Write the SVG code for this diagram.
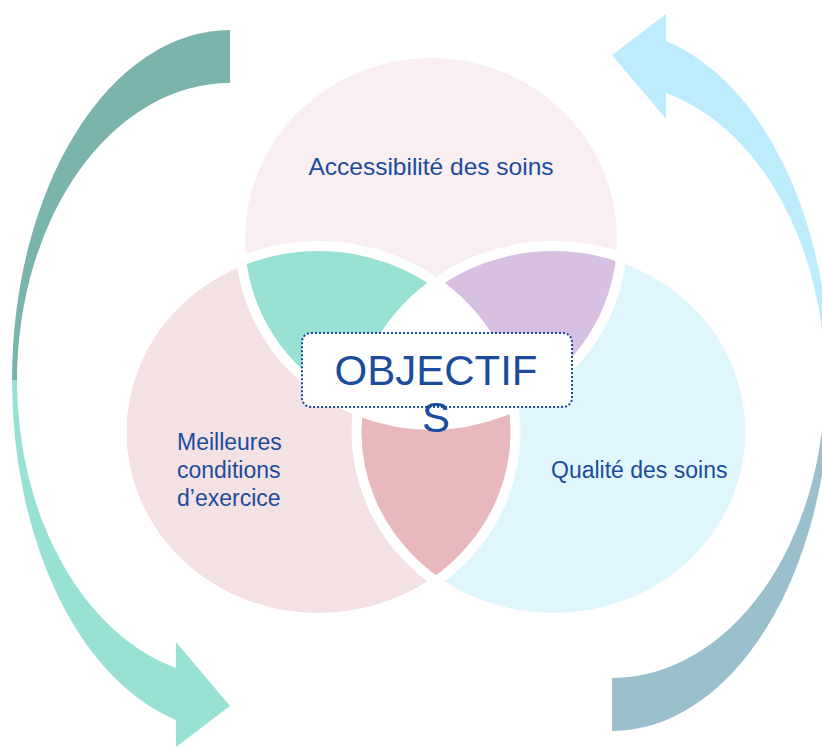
<svg xmlns="http://www.w3.org/2000/svg" width="822" height="747" viewBox="0 0 822 747">
  <style>
    .lbl { font-family: "Liberation Sans", Arial, sans-serif; fill: #1C4C9C; }
    .gap { fill: none; stroke: #FFFFFF; stroke-width: 10; }
  </style>
  <defs>
    <clipPath id="clipTop"><ellipse cx="431" cy="239" rx="191" ry="186"/></clipPath>
    <clipPath id="clipLeft"><ellipse cx="318.5" cy="432" rx="197" ry="186"/></clipPath>
    <clipPath id="clipRight"><ellipse cx="553.5" cy="432" rx="197" ry="186"/></clipPath>
    <path id="arrowDark" d="M230,30 A218,350.4 0 0 0 12,380.4 L17,380.5 A213,297.5 0 0 1 230,83 Z"/>
    <path id="arrowLight" d="M12,380.4 A218,350.4 0 0 0 176,720 L176,747 L230,706 L176,642 L176,668 A213,297.5 0 0 1 17,380.5 Z"/>
  </defs>
  <rect width="822" height="747" fill="#FFFFFF"/>

  <g id="connectors">
    <g id="arrow-left">
      <use href="#arrowDark" fill="#7AB4AC"/>
      <use href="#arrowLight" fill="#99E0D5"/>
    </g>
    <g id="arrow-right" transform="rotate(180 421 380.5)">
      <use href="#arrowDark" fill="#9AC0CE"/>
      <use href="#arrowLight" fill="#BDECFD"/>
    </g>
  </g>

  <g id="node-accessibilite">
    <ellipse cx="431" cy="239" rx="191" ry="186" fill="#F9EEF0"/>
  </g>
  <g id="node-conditions">
    <ellipse cx="318.5" cy="432" rx="197" ry="186" fill="#F4E1E4"/>
  </g>
  <g id="node-qualite">
    <ellipse cx="553.5" cy="432" rx="197" ry="186" fill="#E0F6FD"/>
  </g>

  <g id="overlaps">
    <ellipse cx="431" cy="239" rx="191" ry="186" fill="#99E0D5" clip-path="url(#clipLeft)"/>
    <ellipse cx="431" cy="239" rx="191" ry="186" fill="#D8C0E3" clip-path="url(#clipRight)"/>
    <ellipse cx="318.5" cy="432" rx="197" ry="186" fill="#E8B8BC" clip-path="url(#clipRight)"/>
    <g clip-path="url(#clipLeft)">
      <g clip-path="url(#clipRight)">
        <ellipse cx="431" cy="239" rx="191" ry="186" fill="#FFFFFF"/>
      </g>
    </g>
    <ellipse class="gap" cx="431" cy="239" rx="191" ry="186"/>
    <ellipse class="gap" cx="318.5" cy="432" rx="197" ry="186"/>
    <ellipse class="gap" cx="553.5" cy="432" rx="197" ry="186"/>
  </g>

  <g id="labels">
    <text class="lbl" x="431" y="175" font-size="24.5" text-anchor="middle">Accessibilité des soins</text>
    <text class="lbl" x="177" y="450" font-size="23">Meilleures</text>
    <text class="lbl" x="177" y="478" font-size="23">conditions</text>
    <text class="lbl" x="177" y="506" font-size="23">d’exercice</text>
    <text class="lbl" x="551" y="478" font-size="23">Qualité des soins</text>
  </g>

  <g id="node-objectifs">
    <rect x="302" y="333" width="270" height="74" rx="9" ry="9" fill="#FFFFFF" stroke="#1C4C9C" stroke-width="2" stroke-dasharray="2 2"/>
    <text class="lbl" x="436" y="385" font-size="42" text-anchor="middle">OBJECTIF</text>
    <text class="lbl" x="436" y="432" font-size="42" text-anchor="middle">S</text>
  </g>
</svg>
